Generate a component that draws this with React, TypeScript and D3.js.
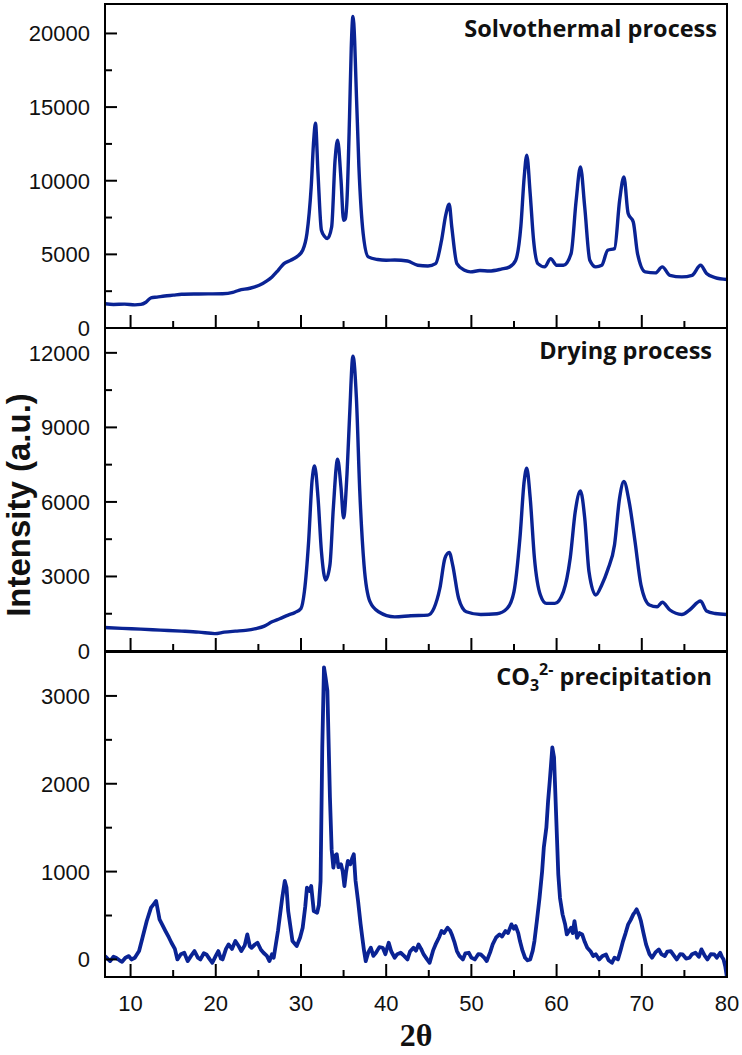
import React from "react";
import * as d3 from "d3";

// XRD patterns: [2theta, intensity]
const solvothermal: [number, number][] = [
  [7.0, 1650], [8.0, 1600], [9.3, 1620], [10.5, 1570], [11.2, 1600], [11.8, 1750], [12.4, 2050],
  [13.1, 2100], [14.0, 2170], [15.0, 2230], [16.0, 2290], [18.0, 2310], [20.8, 2330], [22.0, 2420],
  [22.7, 2560], [24.0, 2700], [25.1, 2900], [26.0, 3200], [26.6, 3470], [27.3, 3900], [28.0, 4370],
  [28.8, 4600], [29.5, 4830], [30.2, 5280], [30.7, 6410], [31.2, 9580], [31.5, 12800], [31.7, 13900],
  [32.0, 10490], [32.4, 6640], [32.8, 6200], [33.1, 6070], [33.6, 6860], [34.0, 11390], [34.3, 12750],
  [34.7, 10040], [35.0, 7320], [35.2, 7400], [35.4, 8680], [35.7, 14340], [35.9, 19000], [36.1, 21150],
  [36.3, 19500], [36.4, 17740], [36.8, 10940], [37.3, 6410], [37.9, 4830], [39.0, 4650], [40.0, 4600],
  [41.0, 4620], [42.5, 4550], [43.7, 4260], [44.9, 4210], [45.8, 4370], [46.5, 5960], [47.0, 7700],
  [47.4, 8400], [47.7, 6860], [48.3, 4370], [49.2, 3920], [49.9, 3810], [51.0, 3900], [52.1, 3870],
  [53.5, 4000], [54.5, 4150], [55.2, 4600], [55.8, 6860], [56.2, 10260], [56.5, 11740], [56.9, 9130],
  [57.3, 5960], [57.8, 4370], [58.6, 4150], [59.3, 4710], [60.0, 4260], [60.8, 4260], [61.7, 5050],
  [62.3, 8680], [62.8, 10940], [63.3, 8220], [63.9, 4600], [64.6, 4150], [65.3, 4260], [66.0, 5280],
  [66.8, 5390], [67.4, 8680], [67.9, 10260], [68.4, 7770], [69.0, 7200], [69.5, 5050], [70.4, 3810],
  [71.6, 3740], [72.4, 4150], [73.3, 3580], [74.7, 3470], [75.9, 3580], [76.9, 4260], [77.6, 3700],
  [78.6, 3420], [80.0, 3290],
];

const drying: [number, number][] = [
  [7.0, 945], [9.0, 910], [11.2, 880], [13.5, 840], [16.0, 800], [18.0, 760], [19.9, 700], [21.0, 760],
  [22.3, 800], [23.5, 830], [24.7, 900], [25.7, 1000], [26.6, 1175], [27.5, 1300], [28.5, 1445],
  [29.3, 1550], [30.0, 1715], [30.4, 2390], [30.9, 4415], [31.3, 6845], [31.6, 7450], [32.0, 6170],
  [32.4, 4010], [32.9, 2860], [33.4, 3470], [33.8, 5765], [34.3, 7720], [34.7, 6575], [35.0, 5360],
  [35.4, 7115], [35.7, 9410], [36.1, 11870], [36.5, 10220], [36.9, 6440], [37.4, 3470], [38.1, 1985],
  [39.1, 1580], [41.0, 1375], [42.9, 1420], [44.9, 1445], [45.6, 1715], [46.3, 2525], [46.9, 3740],
  [47.4, 3970], [47.8, 3470], [48.5, 2120], [49.4, 1580], [51.1, 1470], [53.0, 1500], [54.2, 1715],
  [55.0, 2390], [55.7, 4550], [56.2, 6845], [56.5, 7360], [56.9, 6170], [57.4, 3740], [58.1, 2255],
  [58.8, 1915], [59.8, 1915], [60.8, 2390], [61.6, 3740], [62.2, 5630], [62.8, 6440], [63.3, 5360],
  [63.8, 3200], [64.6, 2255], [65.3, 2660], [66.0, 3265], [66.8, 4280], [67.4, 6170], [67.9, 6820],
  [68.5, 6035], [69.2, 4415], [69.9, 2660], [70.9, 1850], [71.8, 1780], [72.4, 1960], [73.3, 1650],
  [74.7, 1470], [75.6, 1650], [76.9, 2010], [77.6, 1610], [78.6, 1510], [80.0, 1470],
];

const precipitation: [number, number][] = [
  [7.0, 38], [7.3, 10], [7.6, -19], [8.0, 30], [8.3, 19], [8.7, -10], [9.0, -27], [9.4, 20], [9.8, 38],
  [10.1, 0], [10.5, 19], [11.0, 95], [11.4, 247], [11.9, 437], [12.4, 590], [12.7, 627], [13.0, 665],
  [13.4, 456], [13.7, 400], [14.1, 323], [14.5, 250], [14.8, 190], [15.2, 120], [15.5, 0], [15.9, 60],
  [16.3, 76], [16.7, -19], [17.1, 40], [17.5, 95], [17.9, 20], [18.2, 0], [18.6, 70], [18.9, 57],
  [19.3, 0], [19.6, -38], [20.0, 40], [20.3, 95], [20.6, 10], [20.8, 0], [21.2, 120], [21.5, 171],
  [21.9, 120], [22.3, 209], [22.7, 150], [23.0, 95], [23.4, 160], [23.7, 285], [24.0, 150], [24.2, 133],
  [24.6, 170], [24.9, 190], [25.3, 110], [25.6, 76], [26.0, 40], [26.3, -19], [26.6, 60], [26.8, 19],
  [27.3, 323], [27.8, 703], [28.1, 893], [28.3, 820], [28.5, 551], [29.0, 209], [29.5, 152], [29.9, 250],
  [30.2, 361], [30.5, 600], [30.7, 817], [31.0, 780], [31.2, 836], [31.5, 551], [31.9, 532], [32.1, 620],
  [32.3, 893], [32.5, 2413], [32.7, 3325], [32.9, 3200], [33.1, 3059], [33.4, 1843], [33.6, 1250],
  [33.8, 1045], [34.0, 1180], [34.2, 1197], [34.4, 1050], [34.7, 1083], [34.9, 1000], [35.1, 836],
  [35.3, 1000], [35.5, 1121], [35.8, 1083], [36.0, 1150], [36.2, 1197], [36.4, 900], [36.7, 665],
  [37.0, 400], [37.2, 247], [37.4, 100], [37.6, -19], [37.9, 80], [38.2, 133], [38.5, 40], [38.8, 76],
  [39.2, 140], [39.6, 133], [39.9, 60], [40.3, 190], [40.6, 90], [41.0, 19], [41.3, 60], [41.7, 76],
  [42.1, 40], [42.5, 0], [42.8, 90], [43.2, 133], [43.5, 100], [43.8, 171], [44.1, 120], [44.4, 57],
  [44.8, 0], [45.1, -38], [45.5, 100], [45.8, 171], [46.2, 250], [46.5, 323], [46.8, 300], [47.2, 361],
  [47.5, 330], [47.7, 285], [48.0, 200], [48.3, 95], [48.6, 40], [49.0, 0], [49.3, 70], [49.7, 76],
  [50.0, 20], [50.4, 0], [50.8, 60], [51.1, 57], [51.5, 20], [51.8, -19], [52.2, 80], [52.5, 171],
  [52.9, 250], [53.3, 285], [53.6, 260], [54.0, 323], [54.3, 300], [54.7, 399], [55.0, 350], [55.2, 380],
  [55.5, 300], [55.7, 209], [56.0, 100], [56.3, 19], [56.6, -10], [56.9, 0], [57.2, 100], [57.4, 209],
  [57.7, 450], [58.0, 703], [58.3, 1000], [58.5, 1273], [58.8, 1501], [59.0, 1800], [59.2, 2033],
  [59.5, 2413], [59.7, 2300], [59.8, 2033], [60.0, 1500], [60.2, 969], [60.4, 700], [60.7, 513],
  [61.0, 400], [61.2, 285], [61.5, 330], [61.7, 361], [61.9, 300], [62.1, 437], [62.4, 247], [62.7, 300],
  [63.0, 285], [63.3, 200], [63.6, 133], [64.0, 90], [64.3, 38], [64.6, 60], [65.0, 0], [65.4, 40],
  [65.8, 57], [66.1, -10], [66.5, -38], [66.8, 20], [67.2, 0], [67.5, 100], [67.8, 209], [68.1, 300],
  [68.4, 399], [68.7, 450], [69.0, 513], [69.2, 540], [69.4, 570], [69.7, 500], [69.9, 437], [70.2, 300],
  [70.5, 171], [70.9, 60], [71.2, 19], [71.6, 80], [72.0, 114], [72.3, 60], [72.7, 38], [73.0, 90],
  [73.4, 95], [73.8, 40], [74.1, 0], [74.5, 60], [74.8, 57], [75.2, 10], [75.6, 19], [75.9, 60],
  [76.3, 76], [76.7, 30], [77.0, 114], [77.4, 40], [77.7, 0], [78.1, 60], [78.5, 57], [78.8, 20],
  [79.2, 76], [79.4, 30], [79.6, 0], [79.8, -80], [80.0, -209],
];

const xMajorTicks = [10, 20, 30, 40, 50, 60, 70, 80];
const xMinorTicks = [15, 25, 35, 45, 55, 65, 75];

const solvoMajor = [0, 5000, 10000, 15000, 20000];
const solvoMinor = [2500, 7500, 12500, 17500];
const dryingMajor = [0, 3000, 6000, 9000, 12000];
const dryingMinor = [1500, 4500, 7500, 10500];
const precipMajor = [0, 1000, 2000, 3000];
const precipMinor = [500, 1500, 2500];

const W = 742;
const H = 1055;
const left = 105;
const right = 727;
const lineColor = "#0a2394";
const sans = "'Liberation Sans', Arial, sans-serif";
const labelFont = "'Open Sans', 'Noto Sans', sans-serif";

const x = d3.scaleLinear().domain([7, 80]).range([left, right]);

const panels = [
  { key: "solvo", top: 4, bottom: 328, domain: [0, 22000], major: solvoMajor, minor: solvoMinor, data: solvothermal, smooth: true, width: 3.4 },
  { key: "dry", top: 328, bottom: 651, domain: [0, 13000], major: dryingMajor, minor: dryingMinor, data: drying, smooth: true, width: 3.4 },
  { key: "co3", top: 652, bottom: 977, domain: [-200, 3500], major: precipMajor, minor: precipMinor, data: precipitation, smooth: false, width: 3.8 },
];

const Panel = ({ p, showX, children }: any) => {
  const y = d3.scaleLinear().domain(p.domain).range([p.bottom, p.top]);
  const line = d3
    .line<[number, number]>()
    .x((d) => x(d[0]))
    .y((d) => y(d[1]))
    .curve(p.smooth ? d3.curveMonotoneX : d3.curveLinear);
  return (
    <g>
      <defs>
        <clipPath id={`clip-${p.key}`}>
          <rect x={left} y={p.top} width={right - left} height={p.bottom - p.top} />
        </clipPath>
      </defs>
      <path
        d={line(p.data) || ""}
        fill="none"
        stroke={lineColor}
        strokeWidth={p.width}
        strokeLinejoin="round"
        clipPath={`url(#clip-${p.key})`}
      />
      <rect x={left} y={p.top} width={right - left} height={p.bottom - p.top} fill="none" stroke="#000" strokeWidth={2} />
      {p.major.map((v: number) => (
        <g key={"ym" + v}>
          <line x1={left} x2={left + 12} y1={y(v)} y2={y(v)} stroke="#000" strokeWidth={2} />
          <text x={90} y={y(v)} dy="0.36em" textAnchor="end" fontFamily={sans} fontSize={22} fill="#111">
            {v}
          </text>
        </g>
      ))}
      {p.minor.map((v: number) => (
        <line key={"yn" + v} x1={left} x2={left + 7} y1={y(v)} y2={y(v)} stroke="#000" strokeWidth={2} />
      ))}
      {xMajorTicks.map((v) => (
        <g key={"xm" + v}>
          <line x1={x(v)} x2={x(v)} y1={p.bottom} y2={p.bottom - 13} stroke="#000" strokeWidth={2} />
          {showX && (
            <text x={x(v)} y={1011} textAnchor="middle" fontFamily={sans} fontSize={22} fill="#111">
              {v}
            </text>
          )}
        </g>
      ))}
      {xMinorTicks.map((v) => (
        <line key={"xn" + v} x1={x(v)} x2={x(v)} y1={p.bottom} y2={p.bottom - 7} stroke="#000" strokeWidth={2} />
      ))}
      {children}
    </g>
  );
};

export default function App() {
  return (
    <div style={{ position: "absolute", left: 0, top: 0 }}>
      <svg width={W} height={H} style={{ display: "block", background: "#fff" }}>
        <Panel p={panels[0]} showX={false}>
          <text x={717} y={37} textAnchor="end" fontFamily={labelFont} fontWeight="bold" fontSize={23.5} fill="#111">
            Solvothermal process
          </text>
        </Panel>
        <Panel p={panels[1]} showX={false}>
          <text x={712} y={359} textAnchor="end" fontFamily={labelFont} fontWeight="bold" fontSize={23.5} fill="#111">
            Drying process
          </text>
        </Panel>
        <Panel p={panels[2]} showX={true}>
          <text x={712} y={685} textAnchor="end" fontFamily={labelFont} fontWeight="bold" fontSize={23.5} fill="#111">
            <tspan>CO</tspan>
            <tspan fontSize={16} dy={6}>3</tspan>
            <tspan fontSize={16} dy={-16}>2-</tspan>
            <tspan dy={10}> precipitation</tspan>
          </text>
        </Panel>
        <text
          transform="translate(30,505) rotate(-90)"
          textAnchor="middle"
          fontFamily={sans}
          fontWeight="bold"
          fontSize={33}
          fill="#111"
        >
          Intensity (a.u.)
        </text>
        <text x={416} y={1046} textAnchor="middle" fontFamily="'Liberation Serif', 'Times New Roman', serif" fontWeight="bold" fontSize={32} fill="#111">
          2θ
        </text>
      </svg>
    </div>
  );
}
